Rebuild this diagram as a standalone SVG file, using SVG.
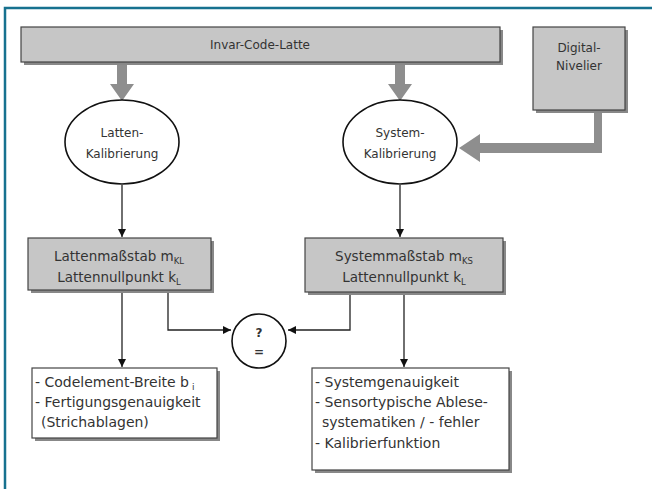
<svg xmlns="http://www.w3.org/2000/svg" width="652" height="489" viewBox="0 0 652 489">
<defs>
<style>
text{font-family:"DejaVu Sans","Liberation Sans",sans-serif;font-size:12px;fill:#333}
.m{font-size:13.5px}
.b{font-size:14px}
.box{stroke:#444;stroke-width:1.2}
.gray{fill:#c6c6c6}
.white{fill:#fff}
.sh{fill:#888}
.ln{stroke:#222;stroke-width:1.3;fill:none}
.big{fill:#8e8e8e}
</style>
<marker id="ah" viewBox="0 0 10 10" refX="10" refY="5" markerWidth="8" markerHeight="8" markerUnits="userSpaceOnUse" orient="auto"><path d="M0,0 L10,5 L0,10 z" fill="#111"/></marker>
</defs>
<rect width="652" height="489" fill="#fff"/>
<path d="M5,489 V8 H652" fill="none" stroke="#17718f" stroke-width="2.5"/>

<g id="connectors">
<path class="big" d="M117,63 H127 V84 H134 L122,101 L110,84 H117 Z"/>
<path class="big" d="M395,63 H405 V84 H412 L400,101 L388,84 H395 Z"/>
<path class="big" d="M594,110 H602 V153 H480 V162 L459,148 L480,134 V143 H594 Z"/>
<path class="ln" d="M122,185 V237" marker-end="url(#ah)"/>
<path class="ln" d="M400,185 V237" marker-end="url(#ah)"/>
<path class="ln" d="M122,290 V367" marker-end="url(#ah)"/>
<path class="ln" d="M404,292 V367" marker-end="url(#ah)"/>
<path class="ln" d="M168,290 V330 H231" marker-end="url(#ah)"/>
<path class="ln" d="M350,292 V330 H288" marker-end="url(#ah)"/>
</g>

<g id="invar">
<rect class="sh" x="24" y="30" width="479" height="35"/>
<rect class="box gray" x="21" y="27" width="479" height="35"/>
<text x="260" y="49" text-anchor="middle">Invar-Code-Latte</text>
</g>
<g id="digital">
<rect class="sh" x="536" y="30" width="92" height="83"/>
<rect class="box gray" x="533" y="27" width="92" height="83"/>
<text x="579" y="52" text-anchor="middle">Digital-</text>
<text x="579" y="70" text-anchor="middle">Nivelier</text>
</g>
<g id="latten-kal">
<ellipse cx="122" cy="142" rx="57" ry="42" fill="#fff" stroke="#111" stroke-width="1.6"/>
<text x="122" y="137" text-anchor="middle">Latten-</text>
<text x="122" y="158" text-anchor="middle">Kalibrierung</text>
</g>
<g id="system-kal">
<ellipse cx="400" cy="142" rx="57" ry="42" fill="#fff" stroke="#111" stroke-width="1.6"/>
<text x="400" y="137" text-anchor="middle">System-</text>
<text x="400" y="158" text-anchor="middle">Kalibrierung</text>
</g>
<g id="lattenmass">
<rect class="sh" x="31" y="241" width="183" height="52"/>
<rect class="box gray" x="28" y="238" width="183" height="52"/>
<text class="m" x="119" y="261" text-anchor="middle">Lattenmaßstab m<tspan font-size="8.5" dy="3">KL</tspan></text>
<text class="m" x="119" y="282" text-anchor="middle">Lattennullpunkt k<tspan font-size="8.5" dy="3">L</tspan></text>
</g>
<g id="systemmass">
<rect class="sh" x="308" y="241" width="198" height="54"/>
<rect class="box gray" x="305" y="238" width="198" height="54"/>
<text class="m" x="404" y="261" text-anchor="middle">Systemmaßstab m<tspan font-size="8.5" dy="3">KS</tspan></text>
<text class="m" x="404" y="282" text-anchor="middle">Lattennullpunkt k<tspan font-size="8.5" dy="3">L</tspan></text>
</g>
<g id="vergleich">
<circle cx="259" cy="341" r="27" fill="#fff" stroke="#111" stroke-width="1.6"/>
<text x="259" y="337" text-anchor="middle" font-weight="bold">?</text>
<text x="259" y="356" text-anchor="middle" font-weight="bold">=</text>
</g>
<g id="latten-info">
<rect class="sh" x="35" y="371" width="185" height="70"/>
<rect class="box white" x="32" y="368" width="185" height="70"/>
<text class="b" x="35" y="387">- Codelement-Breite b<tspan font-size="9" dy="3"> i</tspan></text>
<text class="b" x="35" y="407">- Fertigungsgenauigkeit</text>
<text class="b" x="41" y="427">(Strichablagen)</text>
</g>
<g id="system-info">
<rect class="sh" x="315" y="371" width="197" height="102"/>
<rect class="box white" x="312" y="368" width="197" height="102"/>
<text class="b" x="315" y="387">- Systemgenauigkeit</text>
<text class="b" x="315" y="407">- Sensortypische Ablese-</text>
<text class="b" x="322" y="427">systematiken / - fehler</text>
<text class="b" x="315" y="448">- Kalibrierfunktion</text>
</g>
</svg>
